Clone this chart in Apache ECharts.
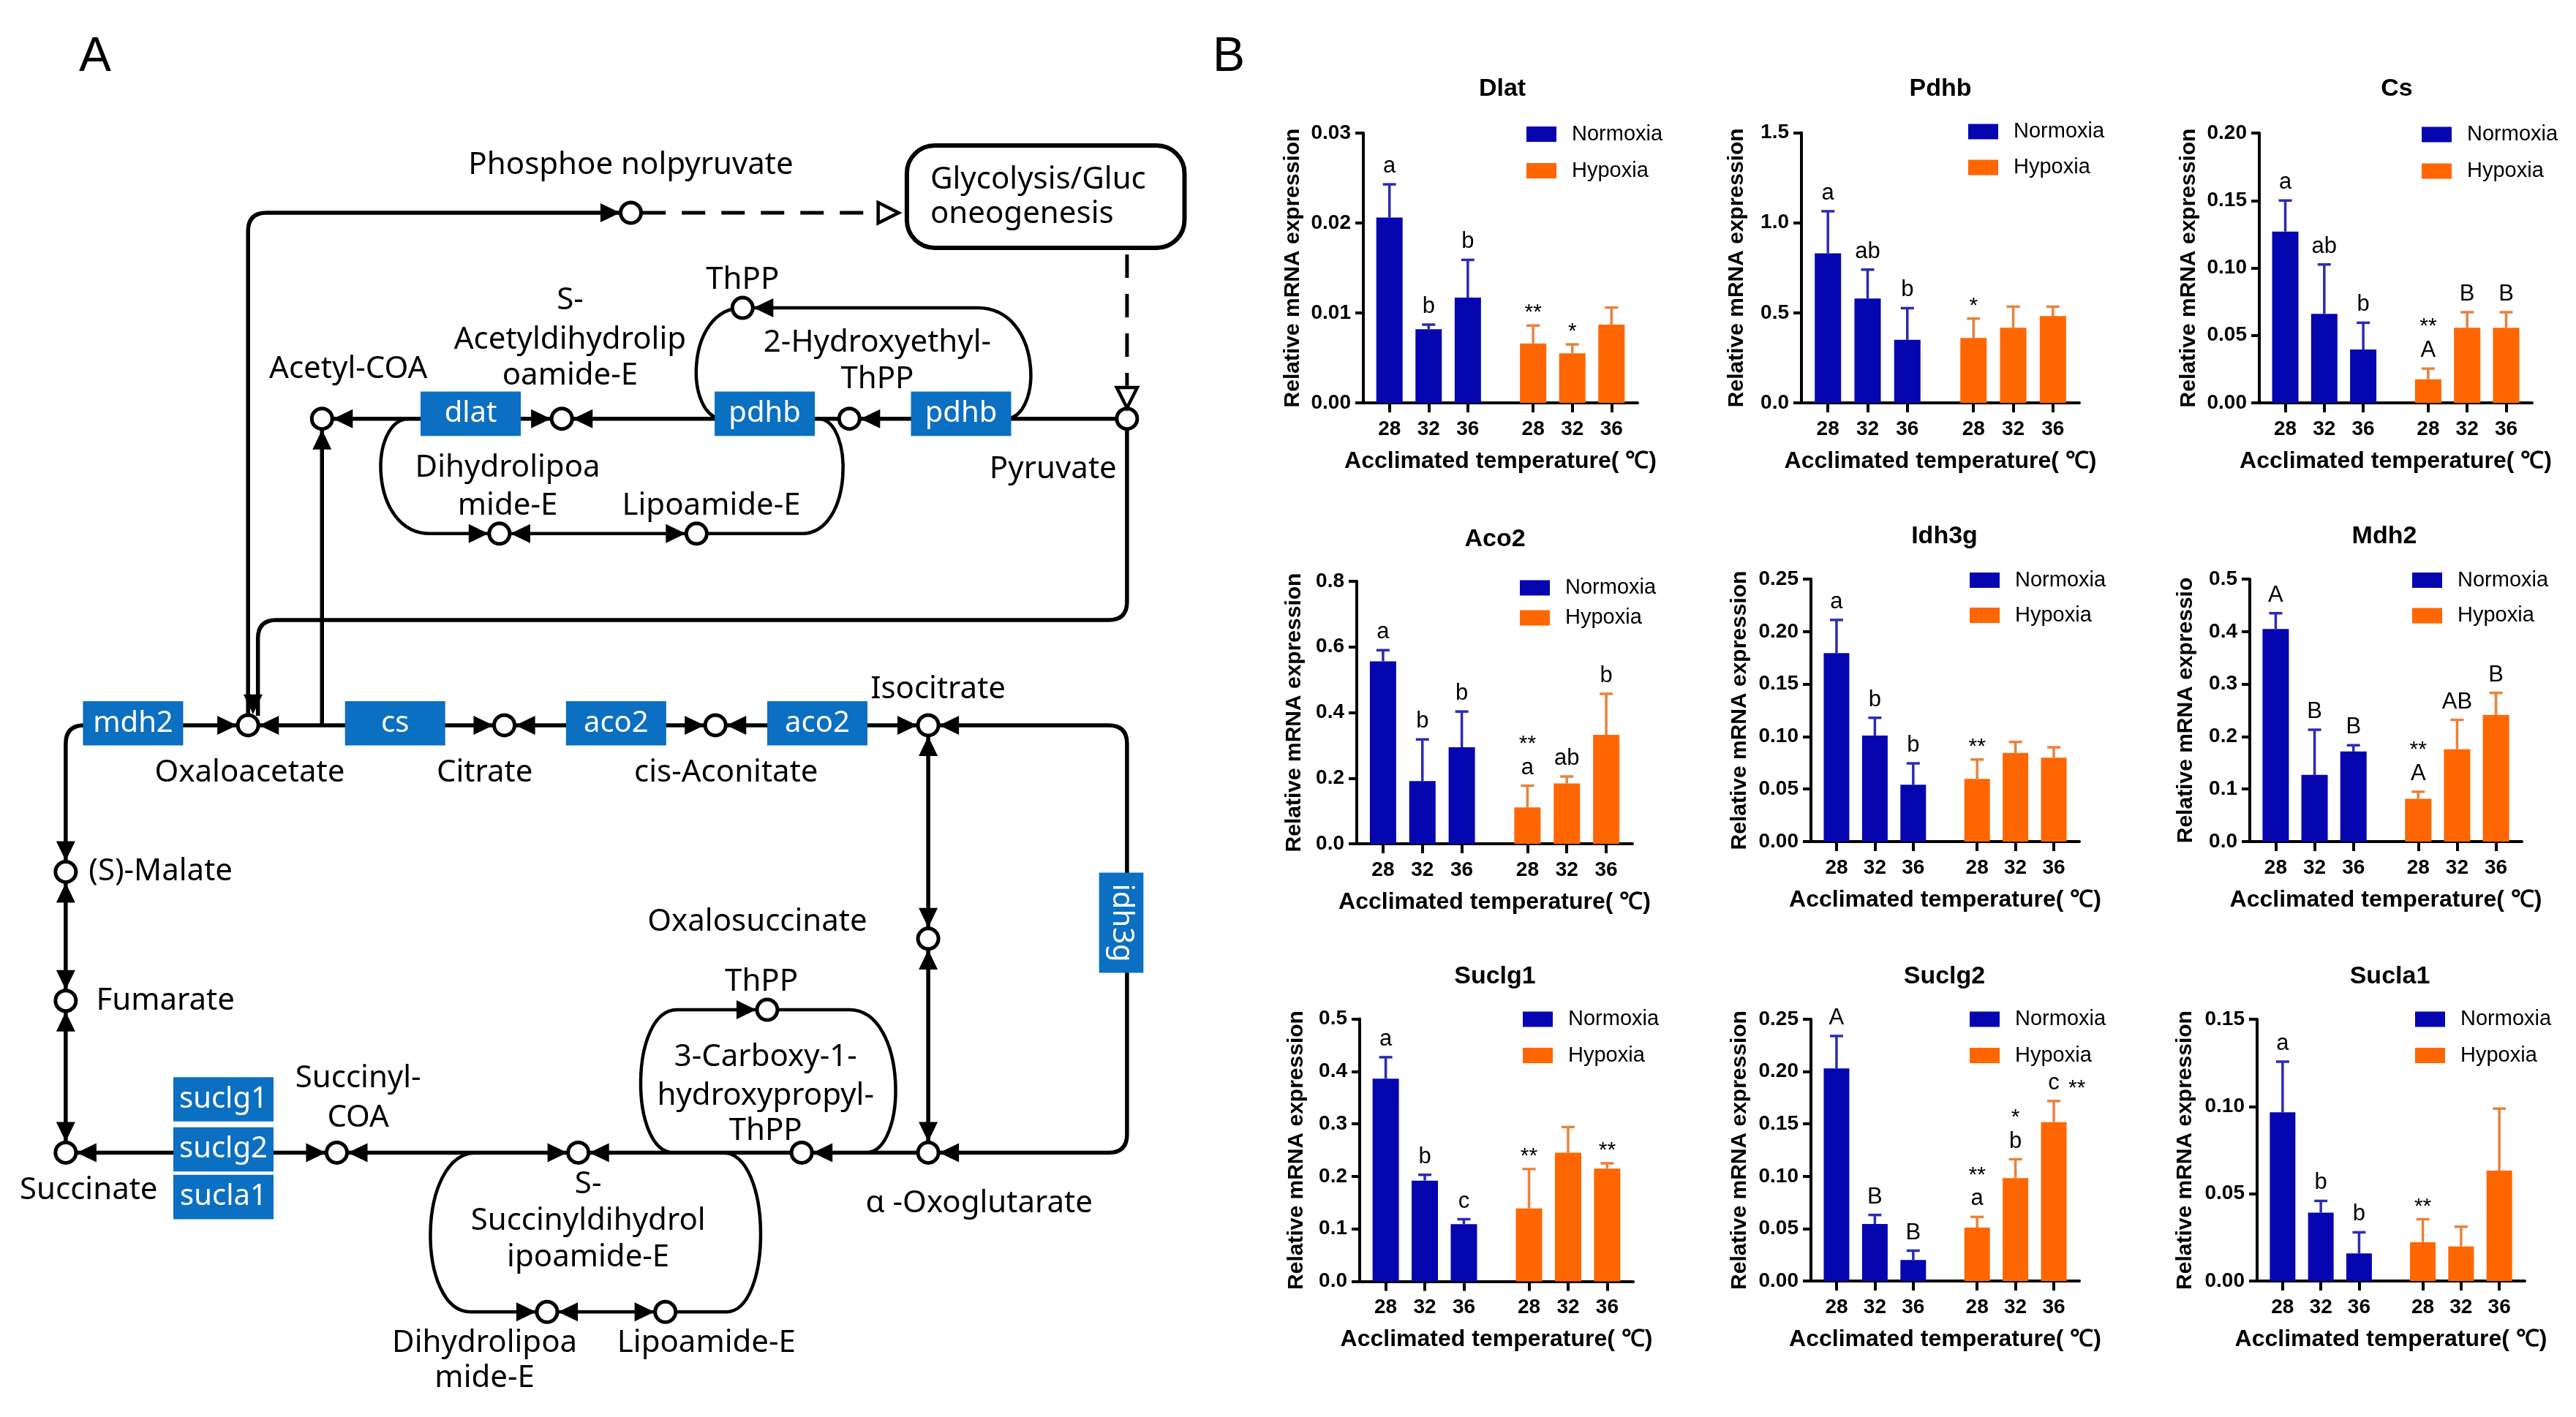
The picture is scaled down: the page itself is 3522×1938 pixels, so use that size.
<!DOCTYPE html>
<html>
<head>
<meta charset="utf-8">
<script src="https://cdn.jsdelivr.net/npm/echarts@6.0.0/dist/echarts.min.js"></script>
<style>
html,body{margin:0;padding:0;background:#ffffff;}
#chart{width:3522px;height:1938px;}
</style>
</head>
<body>
<div id="chart"></div>
<script>
// ================= Panel B data =================
const genes = ['Dlat','Pdhb','Cs','Aco2','Idh3g','Mdh2','Suclg1','Suclg2','Sucla1'];
const tempLabels = ['28','32','36'];
const groupNames = ['Normoxia','Hypoxia'];
const yAxisTitles = ['Relative mRNA expression','Relative mRNA expression','Relative mRNA expression',
  'Relative mRNA expression','Relative mRNA expression','Relative mRNA expressio',
  'Relative mRNA expression','Relative mRNA expression','Relative mRNA expression'];
const xAxisTitle = 'Acclimated temperature( \u2103)';
const yMax = [0.03, 1.5, 0.20, 0.8, 0.25, 0.5, 0.5, 0.25, 0.15];
const yStep = [0.01, 0.5, 0.05, 0.2, 0.05, 0.1, 0.1, 0.05, 0.05];
const yDecimals = [2, 1, 2, 1, 2, 1, 1, 2, 2];

const dlatNormoxia = [0.0206, 0.0082, 0.0117];
const dlatNormoxiaSD = [0.0037, 0.0005, 0.0042];
const dlatHypoxia = [0.0066, 0.0055, 0.0087];
const dlatHypoxiaSD = [0.0020, 0.0010, 0.0019];
const pdhbNormoxia = [0.83, 0.58, 0.35];
const pdhbNormoxiaSD = [0.234, 0.16, 0.176];
const pdhbHypoxia = [0.36, 0.417, 0.482];
const pdhbHypoxiaSD = [0.108, 0.117, 0.052];
const csNormoxia = [0.127, 0.066, 0.0396];
const csNormoxiaSD = [0.023, 0.0366, 0.0198];
const csHypoxia = [0.0175, 0.0557, 0.0557];
const csHypoxiaSD = [0.0079, 0.0115, 0.0115];
const aco2Normoxia = [0.556, 0.191, 0.294];
const aco2NormoxiaSD = [0.034, 0.127, 0.109];
const aco2Hypoxia = [0.111, 0.184, 0.332];
const aco2HypoxiaSD = [0.066, 0.021, 0.125];
const idh3gNormoxia = [0.1795, 0.101, 0.0541];
const idh3gNormoxiaSD = [0.0316, 0.0169, 0.0204];
const idh3gHypoxia = [0.0598, 0.0844, 0.0799];
const idh3gHypoxiaSD = [0.0184, 0.0105, 0.0099];
const mdh2Normoxia = [0.405, 0.127, 0.1715];
const mdh2NormoxiaSD = [0.030, 0.086, 0.012];
const mdh2Hypoxia = [0.0815, 0.1758, 0.2412];
const mdh2HypoxiaSD = [0.0134, 0.056, 0.042];
const suclg1Normoxia = [0.386, 0.192, 0.109];
const suclg1NormoxiaSD = [0.041, 0.011, 0.0094];
const suclg1Hypoxia = [0.139, 0.245, 0.215];
const suclg1HypoxiaSD = [0.075, 0.049, 0.010];
const suclg2Normoxia = [0.203, 0.0545, 0.0201];
const suclg2NormoxiaSD = [0.031, 0.0086, 0.0089];
const suclg2Hypoxia = [0.051, 0.0983, 0.1517];
const suclg2HypoxiaSD = [0.0102, 0.018, 0.0202];
const sucla1Normoxia = [0.0967, 0.0392, 0.0158];
const sucla1NormoxiaSD = [0.029, 0.0067, 0.0121];
const sucla1Hypoxia = [0.0222, 0.0198, 0.0633];
const sucla1HypoxiaSD = [0.0132, 0.0113, 0.0355];

// significance marks, per bar, lines from top to bottom
const dlatNormoxiaMarks = [['a'],['b'],['b']];
const dlatHypoxiaMarks = [['**'],['*'],[]];
const pdhbNormoxiaMarks = [['a'],['ab'],['b']];
const pdhbHypoxiaMarks = [['*'],[],[]];
const csNormoxiaMarks = [['a'],['ab'],['b']];
const csHypoxiaMarks = [['**','A'],['B'],['B']];
const aco2NormoxiaMarks = [['a'],['b'],['b']];
const aco2HypoxiaMarks = [['**','a'],['ab'],['b']];
const idh3gNormoxiaMarks = [['a'],['b'],['b']];
const idh3gHypoxiaMarks = [['**'],[],[]];
const mdh2NormoxiaMarks = [['A'],['B'],['B']];
const mdh2HypoxiaMarks = [['**','A'],['AB'],['B']];
const suclg1NormoxiaMarks = [['a'],['b'],['c']];
const suclg1HypoxiaMarks = [['**'],[],['**']];
const suclg2NormoxiaMarks = [['A'],['B'],['B']];
const suclg2HypoxiaMarks = [['**','a'],['*','b'],['c **']];
const sucla1NormoxiaMarks = [['a'],['b'],['b']];
const sucla1HypoxiaMarks = [['**'],[],[]];

// ================= Panel A (pathway) data, diagram units =================
const compoundNodes = [[384,129.6],[686,255],[517,255],[342,255],[196,255],[304,325],[424,325],[452,187.5],
  [151,441.7],[307,441.7],[435.5,441.7],[565,441.7],[40,531],[40,609.5],[40,702],[565,571.7],[565,702],
  [488,702],[352,702],[205,702],[467,615],[333,799],[405,799]];
const connectorLines = [
  [[151,436],[151,129.6],[378,129.6]],
  [[686,261],[686,377.6],[157,377.6],[157,436]],
  [[680,255],[523,255]],
  [[511,255],[348,255]],
  [[336,255],[202,255]],
  [[196,441.7],[196,261]],
  [[40,525],[40,441.7],[145,441.7]],
  [[157,441.7],[301,441.7]],
  [[313,441.7],[429,441.7]],
  [[442,441.7],[559,441.7]],
  [[571,441.7],[686,441.7],[686,702],[571,702]],
  [[565,448],[565,565]],
  [[565,578],[565,696]],
  [[559,702],[494,702]],
  [[482,702],[358,702]],
  [[346,702],[211,702]],
  [[199,702],[46,702]],
  [[40,537.5],[40,603]],
  [[40,616],[40,696]]
];
const dashedLines = [[[391,129.6],[534,129.6]], [[686,155],[686,235]]];
const openArrowHeads = [[547,129.6,'R'],[686,248.5,'D']];
// [xBaseL, xFarL, xBulgeL, xBaseR, xFarR, xBulgeR, yBase, yFar]
const reactionLoops = [
  [440,452,424, 612,595,627, 255,187.5],
  [249,262,232, 498,488,513, 255,325],
  [410,412,390, 527,517,545, 702,615],
  [290,286.5,262, 440,442,463, 702,799]
];
const arrowHeads = [
  [377.5,129.6,'R'],[154,435,'D'],[523.7,255,'L'],[348.7,255,'L'],[202.7,255,'L'],[335.3,255,'R'],
  [196,261.7,'U'],[458.7,187.5,'L'],[297.3,325,'R'],[310.7,325,'L'],[417.3,325,'R'],
  [144.3,441.7,'R'],[40,524.3,'D'],[157.7,441.7,'L'],[300.3,441.7,'R'],[313.7,441.7,'L'],[428.8,441.7,'R'],
  [442.2,441.7,'L'],[558.3,441.7,'R'],[571.7,441.7,'L'],[565,448.4,'U'],[565,565,'D'],[565,578.4,'U'],
  [565,695.3,'D'],[571.7,702,'L'],[494.7,702,'L'],[358.7,702,'L'],[345.3,702,'R'],[211.7,702,'L'],
  [198.3,702,'R'],[46.7,702,'L'],[40,537.7,'U'],[40,602.8,'D'],[40,616.2,'U'],[40,695.3,'D'],
  [460.3,615,'R'],[326.3,799,'R'],[339.7,799,'L'],[398.3,799,'R']
];
const enzymeBoxes = [['pdhb',585,252,0],['pdhb',465.5,252,0],['dlat',286.5,252,0],['mdh2',81,440.5,0],
  ['cs',240.5,440.5,0],['aco2',375,440.5,0],['aco2',497.5,440.5,0],['idh3g',682.5,562,1],
  ['suclg1',136,669.5,0],['suclg2',136,700,0],['sucla1',136,729,0]];
const pathwayBoxes = [['Glycolysis/Gluc\noneogenesis',552,88.6,721,151]];
const compoundLabels = [
  ['Phosphoe nolpyruvate',384,100.6,'c'],['ThPP',452,170.5,'c'],
  ['S-',347,183,'c'],['Acetyldihydrolip',347,207,'c'],['oamide-E',347,229,'c'],
  ['2-Hydroxyethyl-',534,209,'c'],['ThPP',534,231,'c'],['Acetyl-COA',212,225,'c'],['Pyruvate',641,286,'c'],
  ['Dihydrolipoa',309,285,'c'],['mide-E',309,308,'c'],['Lipoamide-E',433,308,'c'],
  ['Oxaloacetate',152,470.6,'c'],['Citrate',295,470.6,'c'],['cis-Aconitate',442,470.6,'c'],['Isocitrate',571,420,'c'],
  ['(S)-Malate',54,531,'l'],['Oxalosuccinate',461,561.5,'c'],['Fumarate',58.5,609.5,'l'],['Succinate',54,725,'c'],
  ['Succinyl-',218,657,'c'],['COA',218,681,'c'],['ThPP',463.5,598,'c'],
  ['3-Carboxy-1-',466,644,'c'],['hydroxypropyl-',466,667.6,'c'],['ThPP',466,689,'c'],
  ['\u03b1 -Oxoglutarate',596,733,'c'],
  ['S-',358,721.5,'c'],['Succinyldihydrol',358,743.7,'c'],['ipoamide-E',358,766,'c'],
  ['Dihydrolipoa',295,818,'c'],['mide-E',295,839.5,'c'],['Lipoamide-E',430,818,'c']
];

// ================= build =================
const FONT = '"Liberation Sans", Arial, sans-serif';
const DFONT = '"Noto Sans", "Open Sans", sans-serif';
const normoxiaColor = '#0606B0';
const hypoxiaColor = '#FF6600';
const normoxiaErrColor = '#2B2BB5';
const hypoxiaErrColor = '#E8823C';
const KX = 3522/1568, KY = 1938/863;

const panels = [
  [dlatNormoxia,dlatNormoxiaSD,dlatHypoxia,dlatHypoxiaSD,dlatNormoxiaMarks,dlatHypoxiaMarks],
  [pdhbNormoxia,pdhbNormoxiaSD,pdhbHypoxia,pdhbHypoxiaSD,pdhbNormoxiaMarks,pdhbHypoxiaMarks],
  [csNormoxia,csNormoxiaSD,csHypoxia,csHypoxiaSD,csNormoxiaMarks,csHypoxiaMarks],
  [aco2Normoxia,aco2NormoxiaSD,aco2Hypoxia,aco2HypoxiaSD,aco2NormoxiaMarks,aco2HypoxiaMarks],
  [idh3gNormoxia,idh3gNormoxiaSD,idh3gHypoxia,idh3gHypoxiaSD,idh3gNormoxiaMarks,idh3gHypoxiaMarks],
  [mdh2Normoxia,mdh2NormoxiaSD,mdh2Hypoxia,mdh2HypoxiaSD,mdh2NormoxiaMarks,mdh2HypoxiaMarks],
  [suclg1Normoxia,suclg1NormoxiaSD,suclg1Hypoxia,suclg1HypoxiaSD,suclg1NormoxiaMarks,suclg1HypoxiaMarks],
  [suclg2Normoxia,suclg2NormoxiaSD,suclg2Hypoxia,suclg2HypoxiaSD,suclg2NormoxiaMarks,suclg2HypoxiaMarks],
  [sucla1Normoxia,sucla1NormoxiaSD,sucla1Hypoxia,sucla1HypoxiaSD,sucla1NormoxiaMarks,sucla1HypoxiaMarks]
];

// layout (pixels)
const layouts = [
  {l:1864, t:182, w:375, h:369, legL:2087, legC:183.5, legP:50, tx:2054, ty:121.5, yd:98},
  {l:2463, t:181.5, w:380, h:369.5, legL:2691, legC:180, legP:49, tx:2653, ty:121.5, yd:90},
  {l:3089, t:182, w:373, h:369, legL:3311, legC:184, legP:50, tx:3277, ty:121.5, yd:98},
  {l:1855, t:795, w:377, h:359, legL:2078, legC:804, legP:41, tx:2044, ty:737.7, yd:87},
  {l:2476, t:792, w:367, h:359, legL:2693, legC:793.5, legP:48, tx:2658.5, ty:734, yd:99},
  {l:3076, t:792, w:372, h:359, legL:3298, legC:793.5, legP:48.5, tx:3260, ty:734, yd:89},
  {l:1859, t:1393.5, w:374, h:359, legL:2082, legC:1394, legP:49.5, tx:2044, ty:1336, yd:88},
  {l:2476, t:1394, w:367, h:358, legL:2693, legC:1394, legP:49.5, tx:2658.5, ty:1336, yd:99},
  {l:3086, t:1394, w:366, h:358, legL:3302, legC:1394, legP:49.5, tx:3267.5, ty:1336, yd:100}
];
const slots = [2,5,8,13,16,19];
const nCats = 22;
const catIds = Array.from({length:nCats}, (_, i) => 'c' + i);
const catLabel = {};
slots.forEach((s, j) => { catLabel[s] = tempLabels[j % 3]; });
const showCat = (idx) => catLabel[idx] !== undefined;

function txtStyle(text, font, fill, align, valign) {
  return {text, font, fill, align, verticalAlign: valign, textAlign: align, textVerticalAlign: valign};
}

function errSeries(gi, means, sds, marks, slotIdx, color) {
  return {
    type:'custom', xAxisIndex:gi, yAxisIndex:gi, z:5, silent:true, animation:false,
    data: means.map((m, j) => [slotIdx[j], m, sds[j]]),
    renderItem: (params, api) => {
      const j = params.dataIndex;
      const x = api.value(0), m = api.value(1), sd = api.value(2);
      const pb = api.coord([x, m]), pt = api.coord([x, m + sd]);
      const ch = [
        {type:'line', shape:{x1:pb[0], y1:pb[1], x2:pt[0], y2:pt[1]}, style:{stroke:color, lineWidth:3.5}},
        {type:'line', shape:{x1:pt[0]-9, y1:pt[1], x2:pt[0]+9, y2:pt[1]}, style:{stroke:color, lineWidth:3.5}}
      ];
      const lines = marks[j];
      const n = lines.length;
      lines.forEach((t, k) => {
        const kk = n - 1 - k;
        const parts = t.split(' ');
        const main = parts[0];
        const isStar = /^\*+$/.test(main);
        const yb = pt[1] - (24 + 40 * kk) + (isStar ? 22 : 15);
        ch.push({type:'text', x:pt[0], y:yb, style: txtStyle(main, (isStar ? '30px ' : '31px ') + FONT, '#000', 'center', 'bottom')});
        if (parts.length > 1) {
          ch.push({type:'text', x:pt[0] + 20, y:pt[1] - 24 + 22, style: txtStyle(parts[1], '30px ' + FONT, '#000', 'left', 'bottom')});
        }
      });
      return {type:'group', children: ch};
    }
  };
}

const grids = [{left:0, top:0, width:3522, height:1938, containLabel:false, outerBoundsMode:'none'}];
const xAxes = [{type:'value', gridIndex:0, min:0, max:1568, show:false}];
const yAxes = [{type:'value', gridIndex:0, min:0, max:863, inverse:true, show:false}];
const legends = [];
const series = [];
const graphicEls = [
  {type:'text', x:130, y:79, style: txtStyle('A', '66px ' + FONT, '#000', 'center', 'middle')},
  {type:'text', x:1680, y:79, style: txtStyle('B', '66px ' + FONT, '#000', 'center', 'middle')}
];

panels.forEach((p, i) => {
  const [nM, nSD, hM, hSD, nMk, hMk] = p;
  const L = layouts[i];
  const gi = i + 1;
  grids.push({left:L.l, top:L.t, width:L.w, height:L.h, containLabel:false, outerBoundsMode:'none'});
  xAxes.push({
    type:'category', gridIndex:gi, data:catIds, boundaryGap:false,
    axisLine:{show:true, onZero:false, lineStyle:{color:'#000', width:4}},
    axisTick:{show:true, length:13, interval:(idx) => showCat(idx), lineStyle:{color:'#000', width:4}},
    axisLabel:{show:true, interval:(idx) => showCat(idx), formatter:(v, idx) => catLabel[idx] || '',
      margin:22, fontFamily:FONT, fontSize:28, fontWeight:'bold', color:'#000'},
    splitLine:{show:false},
    name:xAxisTitle, nameLocation:'middle', nameGap:64, nameMoveOverlap:false,
    nameTextStyle:{fontFamily:FONT, fontSize:32, fontWeight:'bold', color:'#000'}
  });
  const dec = yDecimals[i];
  yAxes.push({
    type:'value', gridIndex:gi, min:0, max:yMax[i], interval:yStep[i],
    axisLine:{show:true, lineStyle:{color:'#000', width:4}},
    axisTick:{show:true, length:11, lineStyle:{color:'#000', width:4}},
    axisLabel:{margin:17, fontFamily:FONT, fontSize:28, fontWeight:'bold', color:'#000', formatter:(v) => v.toFixed(dec)},
    splitLine:{show:false},
    name:yAxisTitles[i], nameLocation:'middle', nameRotate:90, nameGap:L.yd - 17, nameMoveOverlap:false,
    nameTextStyle:{fontFamily:FONT, fontSize:30, fontWeight:'bold', color:'#000'}
  });
  const nData = Array(nCats).fill('-');
  nM.forEach((v, j) => { nData[slots[j]] = v; });
  const hData = Array(nCats).fill('-');
  hM.forEach((v, j) => { hData[slots[j + 3]] = v; });
  const bw = Math.round(L.w / 7 * 0.67);
  series.push({type:'bar', name:groupNames[0], xAxisIndex:gi, yAxisIndex:gi, data:nData, barWidth:bw, barGap:'-100%',
    itemStyle:{color:normoxiaColor}, animation:false, silent:true, z:2});
  series.push({type:'bar', name:groupNames[1], xAxisIndex:gi, yAxisIndex:gi, data:hData, barWidth:bw, barGap:'-100%',
    itemStyle:{color:hypoxiaColor}, animation:false, silent:true, z:2});
  series.push(errSeries(gi, nM, nSD, nMk, slots.slice(0, 3), normoxiaErrColor));
  series.push(errSeries(gi, hM, hSD, hMk, slots.slice(3), hypoxiaErrColor));
  legends.push({
    orient:'vertical', left:L.legL, top:L.legC - 14.5, itemWidth:41, itemHeight:21, itemGap:L.legP - 29,
    icon:'rect', padding:0, selectedMode:false, data:groupNames.slice(),
    textStyle:{fontFamily:FONT, fontSize:29, color:'#000', padding:[0,0,0,16]}
  });
  graphicEls.push({type:'text', x:L.tx, y:L.ty, style: txtStyle(genes[i], 'bold 34px ' + FONT, '#000', 'center', 'middle')});
});

// ---------- Panel A series ----------
function roundedPath(pts, r) {
  let d = 'M' + pts[0][0] + ',' + pts[0][1];
  for (let i = 1; i < pts.length - 1; i++) {
    const [x0, y0] = pts[i-1], [x1, y1] = pts[i], [x2, y2] = pts[i+1];
    const l1 = Math.hypot(x1-x0, y1-y0), l2 = Math.hypot(x2-x1, y2-y1);
    const rr = Math.min(r, l1/2, l2/2);
    const ax = x1 + (x0-x1)/l1*rr, ay = y1 + (y0-y1)/l1*rr;
    const bx = x1 + (x2-x1)/l2*rr, by = y1 + (y2-y1)/l2*rr;
    d += ' L' + ax + ',' + ay + ' Q' + x1 + ',' + y1 + ' ' + bx + ',' + by;
  }
  const last = pts[pts.length-1];
  d += ' L' + last[0] + ',' + last[1];
  return d;
}
function arrowPts(x, y, dir, len, hw) {
  if (dir === 'R') return [[x,y],[x-len,y-hw],[x-len,y+hw]];
  if (dir === 'L') return [[x,y],[x+len,y-hw],[x+len,y+hw]];
  if (dir === 'D') return [[x,y],[x-hw,y-len],[x+hw,y-len]];
  return [[x,y],[x-hw,y+len],[x+hw,y+len]];
}
function diagSeries(arr, z, draw) {
  return {
    type:'custom', xAxisIndex:0, yAxisIndex:0, z, silent:true, animation:false, clip:false,
    data: arr.map((d, i) => [i, 0]),
    renderItem: (params, api) => draw(arr[params.dataIndex], (p) => api.coord(p))
  };
}
series.push(diagSeries(connectorLines, 1, (pts, c) => ({
  type:'path', shape:{pathData: roundedPath(pts.map(c), 25)},
  style:{fill:'none', stroke:'#000', lineWidth:5.5}
})));
series.push(diagSeries(dashedLines, 1, (pts, c) => ({
  type:'path', shape:{pathData: roundedPath(pts.map(c), 0)},
  style:{fill:'none', stroke:'#000', lineWidth:5, lineDash:[32, 22]}
})));
series.push(diagSeries(reactionLoops, 1, (lp, c) => {
  const [xbL, xfL, xeL, xbR, xfR, xeR, yb, yf] = lp;
  const cL = (xeL - (xbL + xfL) / 8) / 0.75, cR = (xeR - (xbR + xfR) / 8) / 0.75;
  const P = (x, y) => c([x, y]).join(',');
  const d = 'M' + P(xbL, yb) + ' C' + P(cL, yb) + ' ' + P(cL, yf) + ' ' + P(xfL, yf) +
    ' L' + P(xfR, yf) + ' C' + P(cR, yf) + ' ' + P(cR, yb) + ' ' + P(xbR, yb);
  return {type:'path', shape:{pathData:d}, style:{fill:'none', stroke:'#000', lineWidth:4.5}};
}));
series.push(diagSeries(pathwayBoxes, 2, (b, c) => {
  const p1 = c([b[1], b[2]]), p2 = c([b[3], b[4]]);
  const lines = b[0].split('\n');
  return {type:'group', children:[
    {type:'rect', shape:{x:p1[0], y:p1[1], width:p2[0]-p1[0], height:p2[1]-p1[1], r:38},
      style:{fill:'#fff', stroke:'#000', lineWidth:6}},
    {type:'text', x:p1[0] + 32, y:(p1[1] + p2[1]) / 2 - 23, style: txtStyle(lines[0], '42px ' + DFONT, '#000', 'left', 'middle')},
    {type:'text', x:p1[0] + 32, y:(p1[1] + p2[1]) / 2 + 24, style: txtStyle(lines[1], '42px ' + DFONT, '#000', 'left', 'middle')}
  ]};
}));
series.push(diagSeries(enzymeBoxes, 3, (b, c) => {
  const p = c([b[1], b[2]]);
  const w = b[3] ? 27 * KX : 61 * KX, h = b[3] ? 61 * KY : 27 * KY;
  return {type:'group', children:[
    {type:'rect', shape:{x:p[0]-w/2, y:p[1]-h/2, width:w, height:h}, style:{fill:'#0B6FC2'}},
    {type:'text', x:p[0], y:p[1], rotation: b[3] ? -Math.PI/2 : 0,
      style: txtStyle(b[0], '40px ' + DFONT, '#fff', 'center', 'middle')}
  ]};
}));
series.push(diagSeries(compoundNodes, 4, (n, c) => {
  const p = c(n);
  return {type:'circle', shape:{cx:p[0], cy:p[1], r:14}, style:{fill:'#fff', stroke:'#000', lineWidth:5}};
}));
series.push(diagSeries(arrowHeads, 5, (a, c) => {
  const p = c([a[0], a[1]]);
  return {type:'polygon', shape:{points: arrowPts(p[0], p[1], a[2], 27, 13)}, style:{fill:'#000'}};
}));
series.push(diagSeries(openArrowHeads, 5, (a, c) => {
  const p = c([a[0], a[1]]);
  return {type:'polygon', shape:{points: arrowPts(p[0], p[1], a[2], 28, 14)}, style:{fill:'#fff', stroke:'#000', lineWidth:4.5}};
}));
series.push(diagSeries(compoundLabels, 6, (t, c) => {
  const p = c([t[1], t[2]]);
  return {type:'text', x:p[0], y:p[1], style: txtStyle(t[0], '42px ' + DFONT, '#000', t[3] === 'l' ? 'left' : 'center', 'middle')};
}));

const chart = echarts.init(document.getElementById('chart'));
chart.setOption({
  backgroundColor:'#ffffff',
  animation:false,
  grid: grids,
  xAxis: xAxes,
  yAxis: yAxes,
  legend: legends,
  series: series,
  graphic: {elements: graphicEls}
});
</script>
</body>
</html>
